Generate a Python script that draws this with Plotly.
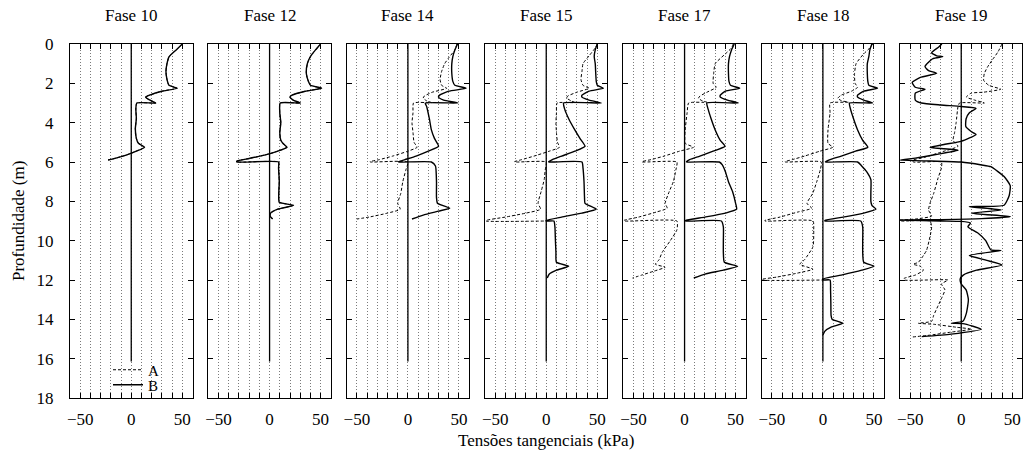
import plotly.graph_objects as go

# ---------------- data ----------------
phases = ["Fase 10", "Fase 12", "Fase 14", "Fase 15", "Fase 17", "Fase 18", "Fase 19"]

x_ticks = [-50, -40, -30, -20, -10, 0, 10, 20, 30, 40, 50]
x_tick_text = ["\u221250", "", "", "", "", "0", "", "", "", "", "50"]
y_ticks = [0, 2, 4, 6, 8, 10, 12, 14, 16, 18]

wall_depth = [0, 16.15]
wall_tau = [0, 0]

# Fase 10
f10_B_tau = [50, 44, 37, 35, 34, 35, 37, 45, 30, 18, 14, 17, 24, 5.5, 4.5, 5, 4, 5, 7, 13, 5, -5, -15, -22.7]
f10_B_z = [0, 0.3, 0.65, 1.0, 1.4, 1.8, 2.1, 2.25, 2.4, 2.6, 2.7, 2.82, 3.0, 3.0, 3.3, 3.8, 4.3, 4.8, 5.05, 5.25, 5.45, 5.65, 5.8, 5.9]
f10_A_tau = f10_B_tau
f10_A_z = f10_B_z

# Fase 12
f12_B_tau = [50, 45, 40, 37, 36, 38, 40, 51, 35, 22, 20, 23, 30, 10.4, 10, 11, 10, 11, 13, 17, 8, -5, -20, -32, -32, 8.8,
             8.8, 9.5, 9, 9.5, 23.5, 8, 1, 0.5, 3]
f12_B_z = [0, 0.3, 0.64, 1.0, 1.5, 1.9, 2.1, 2.25, 2.4, 2.6, 2.7, 2.85, 3.0, 3.0, 3.5, 4.0, 4.5, 4.9, 5.05, 5.25, 5.45, 5.65, 5.82, 5.95, 6.0, 6.0,
           6.3, 7.0, 7.6, 8.05, 8.2, 8.4, 8.6, 8.75, 8.9]
f12_A_tau = f12_B_tau
f12_A_z = f12_B_z

# Fase 14
f14_B_tau = [48.7, 46, 44, 43, 43, 44, 46, 57, 40, 31, 30, 35, 49, 17, 18.5, 21, 23, 26, 30, 20, 8, -3, -9, -9, 23,
             27, 28, 28, 29, 41, 30, 15, 4]
f14_B_z = [0, 0.3, 0.64, 1.0, 1.5, 1.9, 2.1, 2.25, 2.4, 2.6, 2.7, 2.85, 3.0, 3.0, 3.2, 3.8, 4.37, 4.8, 5.2, 5.45, 5.7, 5.88, 5.98, 6.0, 6.0,
           6.2, 7.0, 7.8, 8.1, 8.35, 8.5, 8.7, 8.9]
f14_A_tau = [48, 46, 40, 36, 33, 31.5, 33, 38, 24, 16, 15, 18, 23, 5.5, 5, 4, 5, 6, 9, 0, -15, -28, -37, -37, 0,
             -2, -5, -7, -10, -7.5, -20, -38, -50]
f14_A_z = [0, 0.3, 0.7, 1.0, 1.4, 1.8, 2.1, 2.25, 2.45, 2.65, 2.75, 2.88, 2.98, 3.0, 3.5, 4.0, 4.5, 5.0, 5.25, 5.45, 5.7, 5.88, 5.98, 6.0, 6.0,
           6.4, 7.0, 7.6, 8.1, 8.4, 8.6, 8.8, 8.9]

# Fase 15
f15_B_tau = [50, 48, 47, 48, 48.5, 49, 50, 56, 42, 35, 35, 42, 54, 17, 18, 22, 28, 33, 38, 28, 15, 6, 2.5, 2.5, 35,
             36, 37, 37.5, 38, 49, 35, 15, 0, 0, 7.5, 8.5, 9, 9.5, 10, 22, 10, 3, 1]
f15_B_z = [0, 0.3, 0.64, 1.0, 1.5, 1.9, 2.1, 2.25, 2.4, 2.6, 2.7, 2.85, 3.0, 3.0, 3.3, 3.8, 4.37, 4.8, 5.2, 5.45, 5.7, 5.88, 5.98, 6.0, 6.0,
           6.3, 7.0, 7.8, 8.1, 8.4, 8.6, 8.8, 8.97, 9.0, 9.0, 9.3, 10.0, 10.6, 11.1, 11.3, 11.5, 11.7, 11.9]
f15_A_tau = [50, 48, 42, 36, 35, 34, 36, 42, 30, 21, 20, 24, 28, 10.6, 10, 9.5, 10, 11, 13, 3, -12, -24, -31, -31, 0,
             -1, -2, -5, -8, -5.5, -20, -40, -59, -59, 0]
f15_A_z = [0, 0.2, 0.6, 1.0, 1.4, 1.8, 2.1, 2.25, 2.45, 2.65, 2.75, 2.88, 2.98, 3.0, 3.5, 4.0, 4.5, 5.0, 5.25, 5.45, 5.7, 5.88, 5.98, 6.0, 6.0,
           6.4, 6.9, 7.5, 8.1, 8.4, 8.6, 8.8, 8.97, 9.0, 9.0]

# Fase 17
f17_B_tau = [48.7, 46, 44, 43, 43, 43.5, 45, 54, 40, 35, 35, 42, 52.6, 21.8, 23, 26, 30, 35, 39.6, 28, 15, 5, 2, 2, 34,
             37, 40, 43, 47, 50, 51, 40, 20, 1, 1, 36, 38, 38, 38, 39, 52, 38, 20, 9]
f17_B_z = [0, 0.3, 0.64, 1.0, 1.5, 1.9, 2.1, 2.25, 2.4, 2.6, 2.7, 2.85, 3.0, 3.0, 3.3, 3.8, 4.37, 4.9, 5.2, 5.45, 5.7, 5.88, 5.98, 6.0, 6.0,
           6.15, 6.5, 7.0, 7.5, 8.1, 8.4, 8.6, 8.8, 8.97, 9.0, 9.0, 9.3, 10.0, 10.6, 11.1, 11.3, 11.5, 11.7, 11.9]
f17_A_tau = [47.7, 46, 40, 30, 28.5, 28, 31, 22, 15, 13.6, 17, 21.8, 4, 2.5, 0.6, 0.6, 8.8, -5, -20, -33, -41.6, -41.6, -7.5,
             -8.5, -11, -15, -19, -17, -28, -45, -59.4, -59.4, -7.5, -7.5, -14, -22, -25, -28.6, -19, -30, -42, -51]
f17_A_z = [0, 0.2, 0.5, 1.0, 1.5, 2.0, 2.2, 2.45, 2.65, 2.76, 2.88, 2.96, 3.0, 3.5, 4.37, 5.05, 5.25, 5.45, 5.7, 5.88, 5.98, 6.0, 6.0,
           6.4, 7.0, 7.5, 8.1, 8.35, 8.55, 8.8, 8.97, 9.0, 9.0, 9.45, 10.0, 10.6, 10.97, 11.2, 11.35, 11.55, 11.75, 11.9]

# Fase 18
f18_B_tau = [48, 46, 45, 43.5, 43.5, 44, 45, 53.5, 40, 34, 34, 40, 48.7, 26, 27, 30, 34, 39, 44, 32, 18, 7, 2.6, 2.6, 34,
             38, 43, 47, 47, 47, 48, 52, 40, 20, 2, 2, 37, 39, 39, 39, 40, 50, 38, 18, 0, 0, 7,
             7.5, 7.8, 8, 9, 19.5, 8, 2, 0]
f18_B_z = [0, 0.3, 0.64, 1.0, 1.5, 1.9, 2.1, 2.25, 2.4, 2.6, 2.7, 2.85, 3.0, 3.0, 3.3, 3.8, 4.37, 4.9, 5.25, 5.45, 5.7, 5.88, 5.98, 6.0, 6.0,
           6.2, 6.5, 6.9, 7.5, 8.0, 8.2, 8.4, 8.6, 8.8, 8.97, 9.0, 9.0, 9.3, 10.0, 10.6, 11.1, 11.3, 11.5, 11.75, 11.95, 12.0, 12.0,
           12.5, 13.2, 13.8, 14.0, 14.2, 14.4, 14.6, 14.8]
f18_A_tau = [48.7, 46, 40, 32.5, 31, 31.5, 34, 28, 18, 14.6, 18, 25, 7, 7, 5, 5, 9.7, -3, -18, -30, -37, -37, -1.6,
             -2.6, -6, -10, -15.6, -11, -25, -42, -56.8, -56.8, -9.7, -9, -9.7, -18, -22.7, -9.7, -25, -45, -60, -60, 0]
f18_A_z = [0, 0.2, 0.5, 1.0, 1.5, 2.0, 2.2, 2.4, 2.6, 2.76, 2.88, 2.96, 3.0, 3.5, 4.37, 5.05, 5.25, 5.45, 5.7, 5.88, 5.98, 6.0, 6.0,
           6.4, 7.0, 7.6, 8.1, 8.35, 8.55, 8.8, 8.97, 9.0, 9.0, 9.45, 10.3, 10.97, 11.2, 11.45, 11.65, 11.85, 11.97, 12.0, 12.0]

# Fase 19
f19_B_tau = [-19, -22, -29, -24, -18, -28, -35.5, -32, -24, -40, -48, -45, -35.5, -45, -45, -39, -20, 0, 14.5,
             8, 4.8, 4.5, 9.7, 14.5, 0, -16, -30.6, -3, -25, -45, -60, -30, 0, 20, 29, 42, 48, 47, 42, 8, 39, 10, 48,
             20, -20, -60, -20, 0, 9, 6.5, 16, 24, 29, 39, 8, 25, 40, 15, 2, -1, 0, 4.8, 7, 5, 1.6, -9.7, 1.6, 19.4,
             -10, -38.7]
f19_B_z = [0, 0.15, 0.45, 0.6, 0.64, 0.75, 1.15, 1.35, 1.49, 1.7, 1.95, 2.2, 2.3, 2.5, 2.85, 3.0, 3.1, 3.18, 3.27,
           3.5, 3.8, 4.2, 4.45, 4.6, 4.95, 5.1, 5.26, 5.4, 5.62, 5.8, 5.9, 5.95, 6.0, 6.15, 6.24, 6.74, 7.2, 7.7, 8.2, 8.27, 8.44, 8.6, 8.78,
           8.88, 8.93, 8.95, 9.0, 9.02, 9.1, 9.3, 9.6, 10.0, 10.47, 10.5, 10.75, 11.0, 11.24, 11.5, 11.75, 11.95, 12.2, 12.5, 13.0, 13.7, 14.1, 14.2, 14.22, 14.5,
           14.75, 14.88]
f19_A_tau = [40, 36, 30.6, 26, 22.6, 22, 27, 38.7, 22, 9.7, 5, 13, 22.6, -1.6, -3.2, -5, -6.5, -8, -3.2, -20, -35, -47, -47, -19.4,
             -19.4, -22.6, -27, -30.6, -32, -29, -45, -60, -60, -30.6, -29, -30.6, -34, -37, -42, -47, -40, -37, -45, -56, -56, -13,
             -19.4, -16, -19, -22.6, -27, -29, -42, -27, -5, 10, -10, -30, -48]
f19_A_z = [0, 0.4, 0.8, 1.15, 1.5, 1.85, 2.1, 2.3, 2.45, 2.5, 2.7, 2.85, 3.0, 3.0, 3.2, 4.0, 4.5, 4.9, 5.2, 5.5, 5.75, 5.9, 6.0, 6.0,
           6.3, 6.8, 7.6, 8.1, 8.45, 8.75, 8.9, 8.97, 9.0, 9.0, 9.3, 9.8, 10.5, 10.75, 11.1, 11.2, 11.3, 11.5, 11.75, 11.92, 12.0, 12.0,
           12.2, 12.5, 12.9, 13.3, 13.8, 14.1, 14.2, 14.25, 14.4, 14.5, 14.65, 14.8, 14.9]

series_A = [(f10_A_tau, f10_A_z), (f12_A_tau, f12_A_z), (f14_A_tau, f14_A_z), (f15_A_tau, f15_A_z),
            (f17_A_tau, f17_A_z), (f18_A_tau, f18_A_z), (f19_A_tau, f19_A_z)]
series_B = [(f10_B_tau, f10_B_z), (f12_B_tau, f12_B_z), (f14_B_tau, f14_B_z), (f15_B_tau, f15_B_z),
            (f17_B_tau, f17_B_z), (f18_B_tau, f18_B_z), (f19_B_tau, f19_B_z)]

# ---------------- figure ----------------
W, H = 1034, 454
FONT = "Liberation Serif, Times New Roman, serif"
panel_left0 = 70.0
panel_step = 138.33
panel_w = 122.5
y_top_px, y_bot_px = 44.0, 398.0

fig = go.Figure()
layout = dict(
    template="none",
    width=W, height=H, autosize=False,
    margin=dict(l=0, r=0, t=0, b=0, pad=0, autoexpand=False),
    paper_bgcolor="white", plot_bgcolor="white",
    font=dict(family=FONT, size=16, color="black"),
    showlegend=True,
    legend=dict(x=108 / W, y=1 - 370 / H, xanchor="left", yanchor="middle",
                bgcolor="rgba(0,0,0,0)", borderwidth=0, font=dict(family=FONT, size=15),
                itemwidth=30),
    legend2=dict(x=108 / W, y=1 - 385 / H, xanchor="left", yanchor="middle",
                 bgcolor="rgba(0,0,0,0)", borderwidth=0, font=dict(family=FONT, size=15),
                 itemwidth=30),
)
annotations = []

for i, name in enumerate(phases):
    ax = "" if i == 0 else str(i + 1)
    L = panel_left0 + i * panel_step
    xd = [L / W, (L + panel_w) / W]
    yd = [1 - y_bot_px / H, 1 - y_top_px / H]
    layout["xaxis" + ax] = dict(
        domain=xd, range=[-60, 60], anchor="y" + ax, automargin=False,
        tickmode="array", tickvals=x_ticks, ticktext=x_tick_text, ticks="inside", ticklen=5,
        tickcolor="black", tickwidth=1,
        showline=True, linecolor="black", linewidth=1, mirror="ticks",
        showgrid=True, gridcolor="#7a7a7a", griddash="1px,2px", gridwidth=1,
        zeroline=False, tickfont=dict(family=FONT, size=17),
        ticklabelstandoff=6, fixedrange=True,
    )
    layout["yaxis" + ax] = dict(
        domain=yd, range=[18, 0], anchor="x" + ax, automargin=False,
        tickmode="array", tickvals=y_ticks, ticks="inside", ticklen=5, tickcolor="black", tickwidth=1,
        showline=True, linecolor="black", linewidth=1, mirror="ticks",
        showgrid=False, zeroline=False, showticklabels=(i == 0),
        tickfont=dict(family=FONT, size=17), ticklabelstandoff=12,
        fixedrange=True,
    )
    tA, zA = series_A[i]
    tB, zB = series_B[i]
    fig.add_trace(go.Scatter(x=wall_tau, y=wall_depth, mode="lines",
                             line=dict(color="black", width=1.3),
                             showlegend=False, hoverinfo="skip",
                             xaxis="x" + ax, yaxis="y" + ax))
    fig.add_trace(go.Scatter(x=tA, y=zA, mode="lines", name="A", legend="legend",
                             line=dict(color="black", width=1, dash="3px,2px",
                                       shape="spline", smoothing=0.5),
                             showlegend=(i == 0),
                             xaxis="x" + ax, yaxis="y" + ax))
    fig.add_trace(go.Scatter(x=tB, y=zB, mode="lines", name="B", legend="legend2",
                             line=dict(color="black", width=1.4,
                                       shape="spline", smoothing=0.5),
                             showlegend=(i == 0),
                             xaxis="x" + ax, yaxis="y" + ax))
    annotations.append(dict(text=name, x=(L + panel_w / 2) / W, y=1 - 15 / H,
                            xref="paper", yref="paper", showarrow=False,
                            xanchor="center", yanchor="middle",
                            font=dict(family=FONT, size=17)))

annotations.append(dict(text="Tensões tangenciais (kPa)", x=546 / W, y=1 - 440 / H,
                        xref="paper", yref="paper", showarrow=False,
                        xanchor="center", yanchor="middle",
                        font=dict(family=FONT, size=17)))
annotations.append(dict(text="Profundidade (m)", x=18 / W, y=1 - 221 / H,
                        xref="paper", yref="paper", showarrow=False, textangle=-90,
                        xanchor="center", yanchor="middle",
                        font=dict(family=FONT, size=17)))
layout["annotations"] = annotations
fig.update_layout(**layout)
fig.write_html("out.html", config={"displayModeBar": False},
               post_script="document.body.style.margin='0px';document.body.style.padding='0px';")
